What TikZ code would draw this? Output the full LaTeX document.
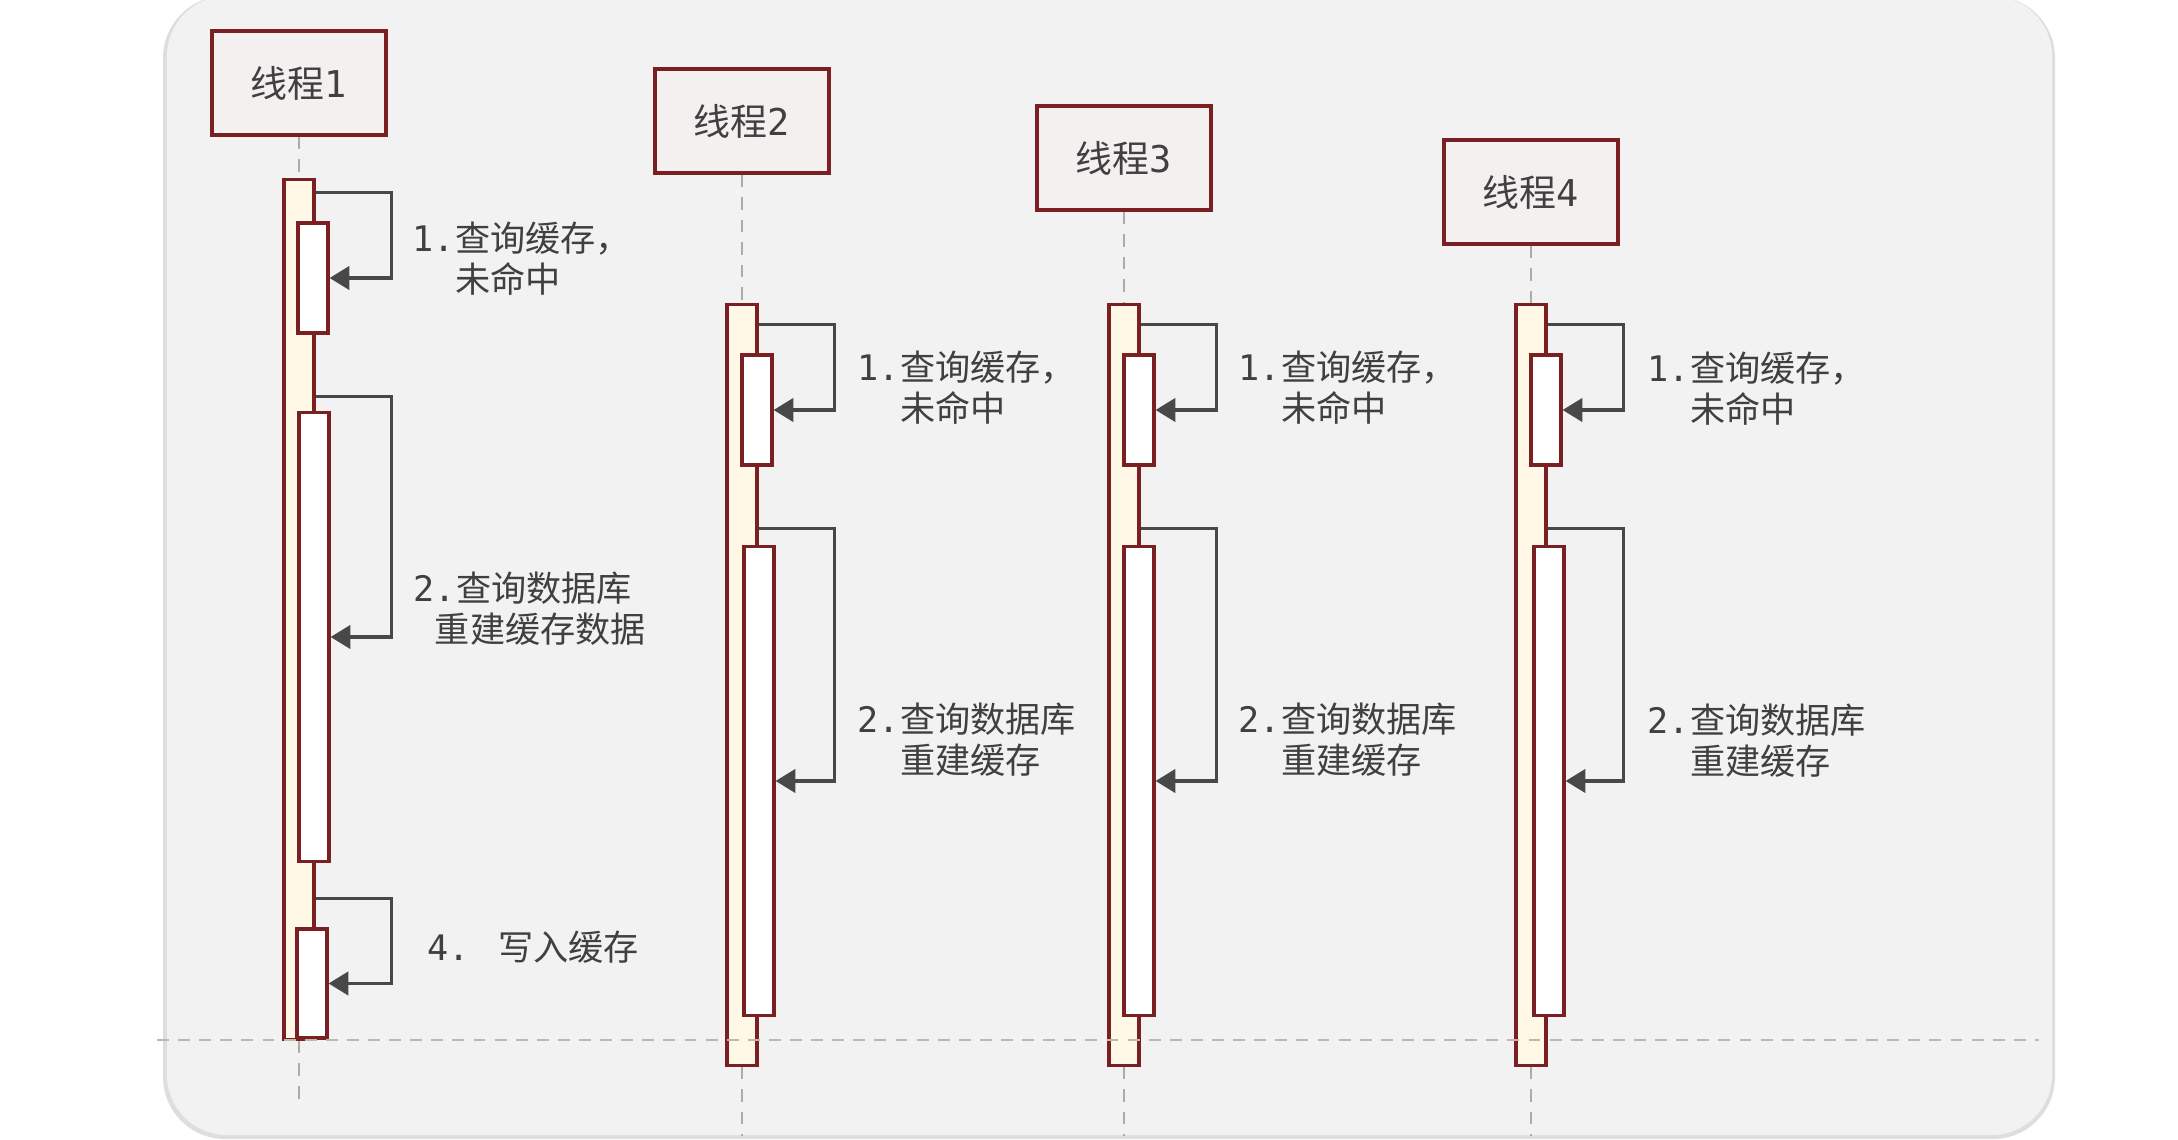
\documentclass[tikz,border=0pt]{standalone}
\usepackage{fontspec}
\setmainfont{Noto Sans CJK SC}
\newfontfamily\mono{DejaVu Sans Mono}
\usetikzlibrary{arrows.meta,calc}
\tikzset{>={Triangle[width=6.6pt,length=5.6pt]}}

\definecolor{panel}{HTML}{F2F2F2}
\definecolor{panelshade}{HTML}{DEDEDE}
\definecolor{borderred}{HTML}{7A1F22}
\definecolor{boxfill}{HTML}{F4F0F0}
\definecolor{barcream}{HTML}{FFF8E6}
\definecolor{textgray}{HTML}{404040}
\definecolor{arrowgray}{HTML}{484848}
\definecolor{lifegray}{HTML}{ABABAB}
\definecolor{sepgray}{HTML}{BDBAA6}

\newcommand\dg[1]{{\mono #1}}

\tikzset{
  thread/.style={draw=borderred, line width=1pt, fill=boxfill, minimum width=1.74cm,
    minimum height=1.04cm, inner sep=0pt, text=textgray, font=\fontsize{10.5}{12}\selectfont},
  outerbar/.style={draw=borderred, line width=0.9pt, fill=barcream, minimum width=0.3cm, inner sep=0pt},
  innerbar/.style={draw=borderred, line width=0.9pt, fill=white, minimum width=0.3cm, inner sep=0pt},
  lifeline/.style={draw=lifegray, line width=0.7pt, dash pattern=on 3.6pt off 2.8pt},
  separator/.style={draw=sepgray, line width=0.7pt, dash pattern=on 3.4pt off 2.6pt},
  selfcall/.style={->, draw=arrowgray, line width=0.95pt},
  note/.style={anchor=west, inner sep=0pt, align=left, text=textgray, font=\fontsize{10}{11.6}\selectfont}
}

\begin{document}
\begin{tikzpicture}[x=0.01cm, y=-0.01cm]

  \useasboundingbox (0,0) rectangle (2178,1140);

  % panel
  \fill[panelshade, rounded corners=0.62cm] (163,-4) rectangle (2055,1139);
  \fill[panel, rounded corners=0.6cm] (167,-4) rectangle (2052,1135);

  % threads
  \node[thread] (t1) at (299,83)   {线程\dg{1}};
  \node[thread] (t2) at (742,121)  {线程\dg{2}};
  \node[thread] (t3) at (1124,158) {线程\dg{3}};
  \node[thread] (t4) at (1531,192) {线程\dg{4}};

  \coordinate (end1) at (299,1105);
  \coordinate (end2) at (742,1136);
  \coordinate (end3) at (1124,1136);
  \coordinate (end4) at (1531,1136);

  %% thread 1
  \node[outerbar, minimum height=8.59cm] (act1) at (299,609.5) {};
  \draw[lifeline] (t1.south) -- (act1.north);
  \draw[lifeline] (act1.south) -- (end1);
  \node[innerbar, minimum height=1.10cm] (q11) at (313,278) {};
  \node[innerbar, minimum height=4.48cm] (q12) at (314,637) {};
  \node[innerbar, minimum height=1.09cm] (q13) at (312,983.5) {};
  \draw[selfcall] ($(q11.north -| act1.east)+(0,-29)$) -- ++(76,0) |- (q11.east); % 1
  \draw[selfcall] ($(q12.north -| act1.east)+(0,-15)$) -- ++(76,0) |- (q12.east); % 2
  \draw[selfcall] ($(q13.north -| act1.east)+(0,-29)$) -- ++(76,0) |- (q13.east); % 4
  \node[note] (n11) at (412,259) {\dg{1.}查询缓存，\\\hphantom{\dg{1.}}未命中};
  \node[note] (n12) at (413,609) {\dg{2.}查询数据库\\\hphantom{\dg{2}}重建缓存数据};
  \node[note] (n13) at (427,947) {\dg{4. }写入缓存};

  %% thread 2
  \node[outerbar, minimum height=7.60cm] (act2) at (742,685) {};
  \draw[lifeline] (t2.south) -- (act2.north);
  \draw[lifeline] (act2.south) -- (end2);
  \node[innerbar, minimum height=1.10cm] (q21) at (757,410) {};
  \node[innerbar, minimum height=4.68cm] (q22) at (759,781) {};
  \draw[selfcall] ($(q21.north -| act2.east)+(0,-29)$) -- ++(76,0) |- (q21.east);
  \draw[selfcall] ($(q22.north -| act2.east)+(0,-17)$) -- ++(76,0) |- (q22.east);
  \node[note] (n21) at (857,388) {\dg{1.}查询缓存，\\\hphantom{\dg{1.}}未命中};
  \node[note] (n22) at (857,740) {\dg{2.}查询数据库\\\hphantom{\dg{2.}}重建缓存};

  %% thread 3
  \node[outerbar, minimum height=7.60cm] (act3) at (1124,685) {};
  \draw[lifeline] (t3.south) -- (act3.north);
  \draw[lifeline] (act3.south) -- (end3);
  \node[innerbar, minimum height=1.10cm] (q31) at (1139,410) {};
  \node[innerbar, minimum height=4.68cm] (q32) at (1139,781) {};
  \draw[selfcall] ($(q31.north -| act3.east)+(0,-29)$) -- ++(76,0) |- (q31.east);
  \draw[selfcall] ($(q32.north -| act3.east)+(0,-17)$) -- ++(76,0) |- (q32.east);
  \node[note] (n31) at (1238,388) {\dg{1.}查询缓存，\\\hphantom{\dg{1.}}未命中};
  \node[note] (n32) at (1238,740) {\dg{2.}查询数据库\\\hphantom{\dg{2.}}重建缓存};

  %% thread 4
  \node[outerbar, minimum height=7.60cm] (act4) at (1531,685) {};
  \draw[lifeline] (t4.south) -- (act4.north);
  \draw[lifeline] (act4.south) -- (end4);
  \node[innerbar, minimum height=1.10cm] (q41) at (1546,410) {};
  \node[innerbar, minimum height=4.68cm] (q42) at (1549,781) {};
  \draw[selfcall] ($(q41.north -| act4.east)+(0,-29)$) -- ++(76,0) |- (q41.east);
  \draw[selfcall] ($(q42.north -| act4.east)+(0,-17)$) -- ++(76,0) |- (q42.east);
  \node[note] (n41) at (1647,389) {\dg{1.}查询缓存，\\\hphantom{\dg{1.}}未命中};
  \node[note] (n42) at (1647,741) {\dg{2.}查询数据库\\\hphantom{\dg{2.}}重建缓存};

  % time line
  \coordinate (sepL) at (157,1040);
  \coordinate (sepR) at (2039,1040);
  \draw[separator] (sepL) -- (sepR);

\end{tikzpicture}
\end{document}
